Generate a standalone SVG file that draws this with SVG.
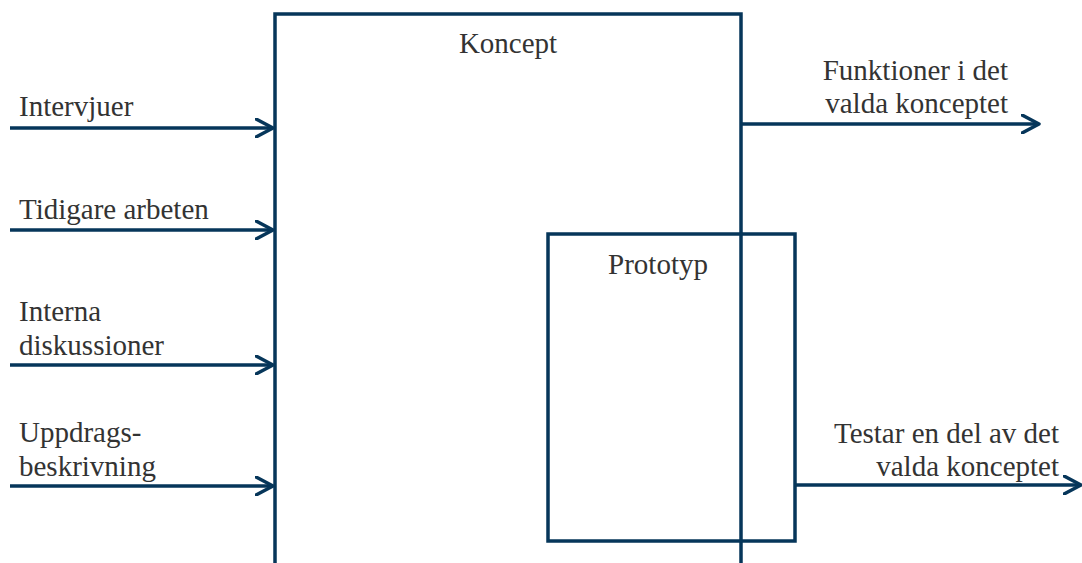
<svg xmlns="http://www.w3.org/2000/svg" width="1082" height="563" viewBox="0 0 1082 563">
<defs>
<marker id="arr" viewBox="0 0 20 20" refX="18" refY="10" markerWidth="20" markerHeight="20" markerUnits="userSpaceOnUse" orient="auto">
<path d="M1,1 L18,10 L1,19" fill="none" stroke="#06365a" stroke-width="3.5" stroke-linecap="round" stroke-linejoin="round"/>
</marker>
<style>
.ln{stroke:#06365a;stroke-width:3.5;fill:none}
.r{text-anchor:end}
.m{text-anchor:middle}
</style>
</defs>
<rect width="1082" height="563" fill="#fff"/>
<g id="koncept">
<path class="ln" d="M275,563 L275,14 L741,14 L741,563"/>
<text class="m" x="508" y="53" font-family="Liberation Serif" font-size="29" fill="#333">Koncept</text>
</g>
<g id="prototyp">
<rect class="ln" x="548" y="234" width="247" height="307"/>
<text class="m" x="658" y="274" font-family="Liberation Serif" font-size="29" fill="#333">Prototyp</text>
</g>
<g id="connectors">
<line class="ln" x1="10" y1="128" x2="273" y2="128" marker-end="url(#arr)"/>
<line class="ln" x1="10" y1="230" x2="273" y2="230" marker-end="url(#arr)"/>
<line class="ln" x1="10" y1="365" x2="273" y2="365" marker-end="url(#arr)"/>
<line class="ln" x1="10" y1="486" x2="273" y2="486" marker-end="url(#arr)"/>
<line class="ln" x1="741" y1="124" x2="1039" y2="124" marker-end="url(#arr)"/>
<line class="ln" x1="795" y1="485" x2="1081" y2="485" marker-end="url(#arr)"/>
</g>
<g id="labels" font-family="Liberation Serif" font-size="29" fill="#333">
<text x="19" y="116">Intervjuer</text>
<text x="19" y="219">Tidigare arbeten</text>
<text x="19" y="321">Interna</text>
<text x="19" y="355">diskussioner</text>
<text x="19" y="442">Uppdrags-</text>
<text x="19" y="476">beskrivning</text>
<text class="r" x="1008" y="80">Funktioner i det</text>
<text class="r" x="1008" y="113">valda konceptet</text>
<text class="r" x="1059" y="443">Testar en del av det</text>
<text class="r" x="1059" y="476">valda konceptet</text>
</g>
</svg>
